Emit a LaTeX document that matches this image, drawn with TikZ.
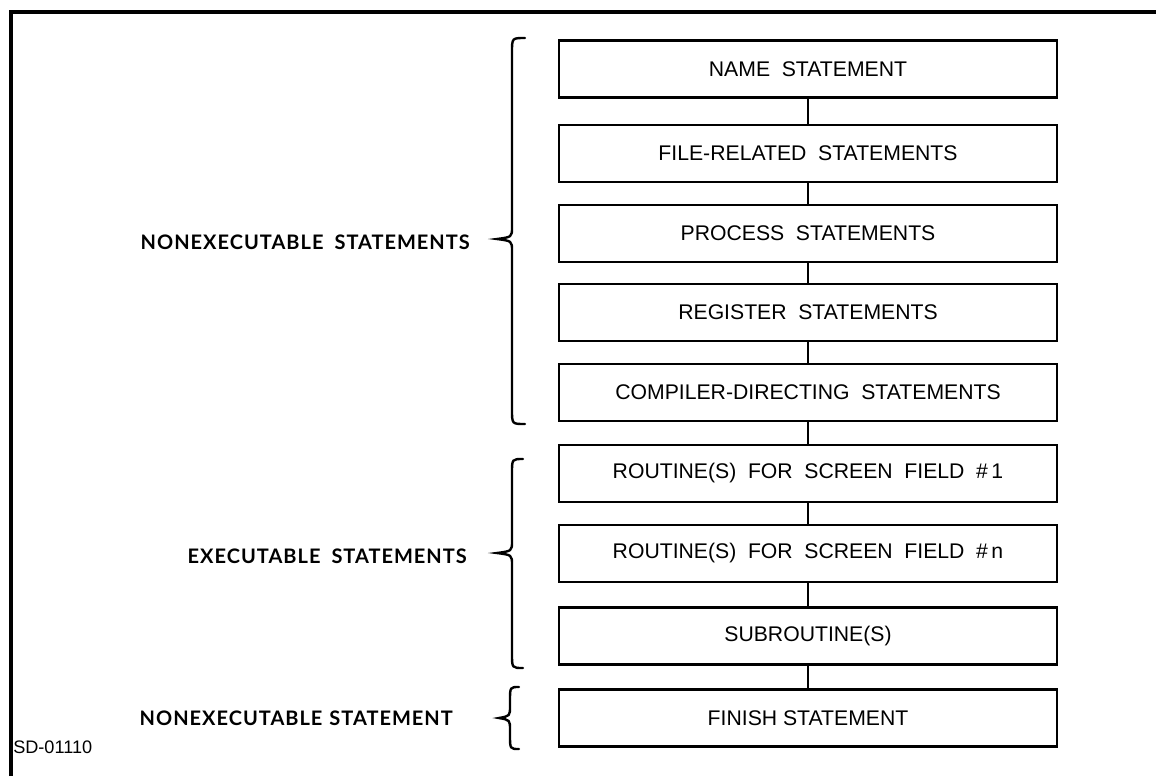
\documentclass[tikz,border=0pt]{standalone}
\usepackage{fontspec}
\setmainfont{Liberation Sans}
\newfontfamily\labelfont{Lato}[LetterSpace=5]
\newcommand{\wsp}{\hspace{0.55em}}
\begin{document}
\begin{tikzpicture}[x=0.75pt,y=-0.75pt,
  stmtbox/.style={draw, line width=1.7pt, minimum width=373.5pt, minimum height=42.75pt,
    inner sep=0pt, font=\fontsize{15.9}{18}\selectfont},
  link/.style={line width=2pt},
  brace/.style={line width=1.8pt, line cap=round},
  grouplabel/.style={anchor=east, inner sep=0pt, font=\labelfont\bfseries\fontsize{15}{18}\selectfont},
  frame/.style={line width=2.4pt}]
\useasboundingbox (0,0) rectangle (1156,776);
% outer frame (top and left rules only)
\draw[frame] (11,776) -- (11,12) -- (1156,12);

% statement boxes
\node[stmtbox] (name)  at (808,69)    {NAME\wsp STATEMENT};
\node[stmtbox] (file)  at (808,153.5) {FILE-RELATED\wsp STATEMENTS};
\node[stmtbox] (proc)  at (808,233.5) {PROCESS\wsp STATEMENTS};
\node[stmtbox] (reg)   at (808,312.5) {REGISTER\wsp STATEMENTS};
\node[stmtbox] (comp)  at (808,392.5) {COMPILER-DIRECTING\wsp STATEMENTS};
\node[stmtbox] (rone)  at (808,473.5) {ROUTINE(S)\wsp FOR\wsp SCREEN\wsp FIELD\wsp \#\,1};
\node[stmtbox] (rn)    at (808,553.5) {ROUTINE(S)\wsp FOR\wsp SCREEN\wsp FIELD\wsp \#\,n};
\node[stmtbox] (sub)   at (808,636)   {SUBROUTINE(S)};
\node[stmtbox] (fin)   at (808,718)   {FINISH STATEMENT};

% connectors
\foreach \a/\b in {name/file, file/proc, proc/reg, reg/comp, comp/rone, rone/rn, rn/sub, sub/fin}
  \draw[link] (\a.south) -- (\b.north);

% braces: end x, spine x, top, tip x, tip y, bottom
\newcommand{\groupbrace}[6]{%
  \draw[brace] (#1,#3) .. controls (#2,#3) .. (#2,#3+14)
    -- (#2,#5-12) .. controls (#2,#5-2) .. (#4,#5)
    .. controls (#2,#5+2) .. (#2,#5+12)
    -- (#2,#6-14) .. controls (#2,#6) .. (#1,#6);}
\groupbrace{525}{512}{38}{497}{239}{424}
\groupbrace{523}{512}{459}{497}{553}{668}
\groupbrace{519}{510}{687}{499}{718}{749}

% group labels
\node[grouplabel] (nonexec) at (470,242) {NONEXECUTABLE\wsp STATEMENTS};
\node[grouplabel] (exec)    at (467,556) {EXECUTABLE\wsp STATEMENTS};
\node[grouplabel] (finlab)  at (453,718) {NONEXECUTABLE\hspace{0.35em}STATEMENT};

% drawing number
\node[anchor=south west, inner sep=0pt, font=\fontsize{13.6}{16}\selectfont] (sd) at (13,754) {SD-01110};
\end{tikzpicture}
\end{document}
